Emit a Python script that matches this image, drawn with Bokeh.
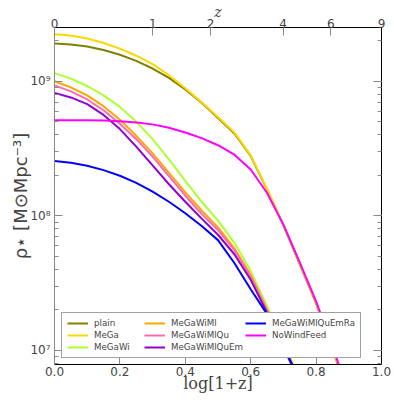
import math
from bokeh.plotting import figure
from bokeh.models import (LogAxis, LinearAxis, FixedTicker, LogTicker, Legend, LegendItem,
                          CustomJSTickFormatter, PrintfTickFormatter)
from bokeh.embed import file_html
from bokeh.resources import INLINE

# x: log10(1+z)
log1pz = [0.00, 0.05, 0.10, 0.15, 0.20, 0.25, 0.30, 0.35, 0.40, 0.45,
          0.50, 0.55, 0.60, 0.65, 0.70, 0.75, 0.80, 0.85, 0.90]

# log10 of stellar mass density rho_star [Msun Mpc^-3]
plain = [9.281, 9.274, 9.258, 9.232, 9.197, 9.152, 9.095, 9.025, 8.940, 8.840,
         8.728, 8.612, 8.445, 8.195, 7.930, 7.640, 7.350, 7.010, 6.660]
mega = [9.350, 9.340, 9.318, 9.285, 9.243, 9.190, 9.128, 9.045, 8.948, 8.845,
        8.735, 8.620, 8.450, 8.200, 7.935, 7.645, 7.355, 7.015, 6.665]
megawi = [9.061, 9.020, 8.965, 8.895, 8.810, 8.700, 8.570, 8.420, 8.260, 8.105,
          7.965, 7.800, 7.590, 7.330, 7.060, 6.790]
megawiml = [9.000, 8.955, 8.895, 8.815, 8.715, 8.595, 8.465, 8.320, 8.175, 8.040,
            7.915, 7.760, 7.560, 7.305, 7.045, 6.780]
megawimlqu = [8.970, 8.925, 8.865, 8.785, 8.685, 8.570, 8.440, 8.295, 8.150, 8.015,
              7.895, 7.745, 7.550, 7.295, 7.035, 6.770]
megawimlquem = [8.914, 8.880, 8.830, 8.750, 8.645, 8.515, 8.375, 8.235, 8.105, 7.980,
                7.860, 7.715, 7.525, 7.280, 7.025, 6.760]
megawimlquemra = [8.407, 8.395, 8.372, 8.340, 8.298, 8.245, 8.180, 8.105, 8.020, 7.925,
                  7.820, 7.650, 7.455, 7.270, 7.030, 6.780]
nowindfeed = [8.711, 8.711, 8.710, 8.708, 8.703, 8.694, 8.680, 8.655, 8.620, 8.578,
              8.525, 8.455, 8.345, 8.170, 7.935, 7.655, 7.365, 7.030, 6.680]

series_names = ["plain", "MeGa", "MeGaWi", "MeGaWiMl", "MeGaWiMlQu",
                "MeGaWiMlQuEm", "MeGaWiMlQuEmRa", "NoWindFeed"]
series_vals = [plain, mega, megawi, megawiml, megawimlqu,
               megawimlquem, megawimlquemra, nowindfeed]
series_colors = ["#808000", "#FFD700", "#ADFF2F", "#FFA500", "#FF69B4",
                 "#9400D3", "#0000FF", "#FF00FF"]

bottom_ticks = [0.0, 0.2, 0.4, 0.6, 0.8, 1.0]
z_labels = ["0", "1", "2", "4", "6", "9"]

p = figure(width=394, height=401, y_axis_type="log",
           x_range=(0, 1), y_range=(7.87e6, 2.51e9),
           output_backend="svg", toolbar_location=None,
           min_border_left=54, min_border_right=13, min_border_top=26, min_border_bottom=37)
p.grid.visible = False
p.outline_line_color = None

items = []
for name, vals, col in zip(series_names, series_vals, series_colors):
    xs = log1pz[:len(vals)]
    ys = [10 ** v for v in vals]
    r = p.line(xs, ys, line_color=col, line_width=2)
    items.append(LegendItem(label=name, renderers=[r]))

tick_color = "#888888"
font = "DejaVu Sans"

# bottom axis
xa = p.xaxis[0]
xa.ticker = FixedTicker(ticks=bottom_ticks)
xa.formatter = PrintfTickFormatter(format="%.1f")
xa.axis_label = "log[1+z]"
xa.axis_label_text_font = "DejaVu Serif"
xa.axis_label_text_font_style = "normal"
xa.axis_label_text_font_size = "16px"
xa.axis_label_standoff = -5
xa.major_label_standoff = 2
xa.major_label_text_font = font
xa.major_label_text_font_size = "12px"
xa.major_tick_in = 8
xa.major_tick_out = 0
xa.minor_tick_line_color = None
xa.major_tick_line_color = tick_color
xa.axis_line_color = "black"

# left axis
ya = p.yaxis[0]
ya.ticker = LogTicker(num_minor_ticks=10)
ya.formatter = CustomJSTickFormatter(code="""
const e = Math.round(Math.log10(tick));
const sup = {'5':'\u2075','6':'\u2076','7':'\u2077','8':'\u2078','9':'\u2079'};
return '10' + sup[String(e)];
""")
ya.axis_label = "\u03c1\u22c6 [M\u2299Mpc\u207b\u00b3]"
ya.axis_label_text_font = font
ya.axis_label_text_font_style = "normal"
ya.axis_label_text_font_size = "18px"
ya.axis_label_standoff = -4
ya.major_label_standoff = 4
ya.major_label_text_font = font
ya.major_label_text_font_size = "12px"
ya.major_tick_in = 8
ya.major_tick_out = 0
ya.minor_tick_in = 4
ya.minor_tick_out = 0
ya.major_tick_line_color = tick_color
ya.minor_tick_line_color = tick_color
ya.axis_line_color = tick_color

# right axis (ticks only)
ra = LogAxis(ticker=LogTicker(num_minor_ticks=10),
             formatter=CustomJSTickFormatter(code="return '';"),
             major_tick_in=8, major_tick_out=0, minor_tick_in=4, minor_tick_out=0,
             major_label_standoff=0,
             major_tick_line_color=tick_color, minor_tick_line_color=tick_color,
             axis_line_color="black", major_label_text_font_size="1px")
p.add_layout(ra, "right")

# top axis: redshift z
top_ticks = [math.log10(1 + float(z)) for z in z_labels]
ta = LinearAxis(ticker=FixedTicker(ticks=top_ticks),
                formatter=CustomJSTickFormatter(args=dict(labels=z_labels),
                                                code="return labels[index];"),
                axis_label="z", axis_label_text_font="DejaVu Serif",
                axis_label_text_font_style="italic", axis_label_text_font_size="14px",
                axis_label_standoff=-4, major_label_standoff=0,
                major_label_text_font=font, major_label_text_font_size="12px",
                major_tick_in=8, major_tick_out=0, minor_tick_line_color=None,
                major_tick_line_color=tick_color, axis_line_color="black")
p.add_layout(ta, "above")

legend = Legend(items=items, location=(7, 6), orientation="vertical", nrows=3,
                label_text_font=font, label_text_font_size="8.7px",
                glyph_width=21, glyph_height=10, label_height=10, label_width=48,
                label_standoff=6, spacing=2, padding=5, margin=0,
                border_line_color="#444444", border_line_width=1,
                background_fill_color="white", background_fill_alpha=1)
p.add_layout(legend, "center")

open("out.html", "w").write(file_html(p, INLINE))
